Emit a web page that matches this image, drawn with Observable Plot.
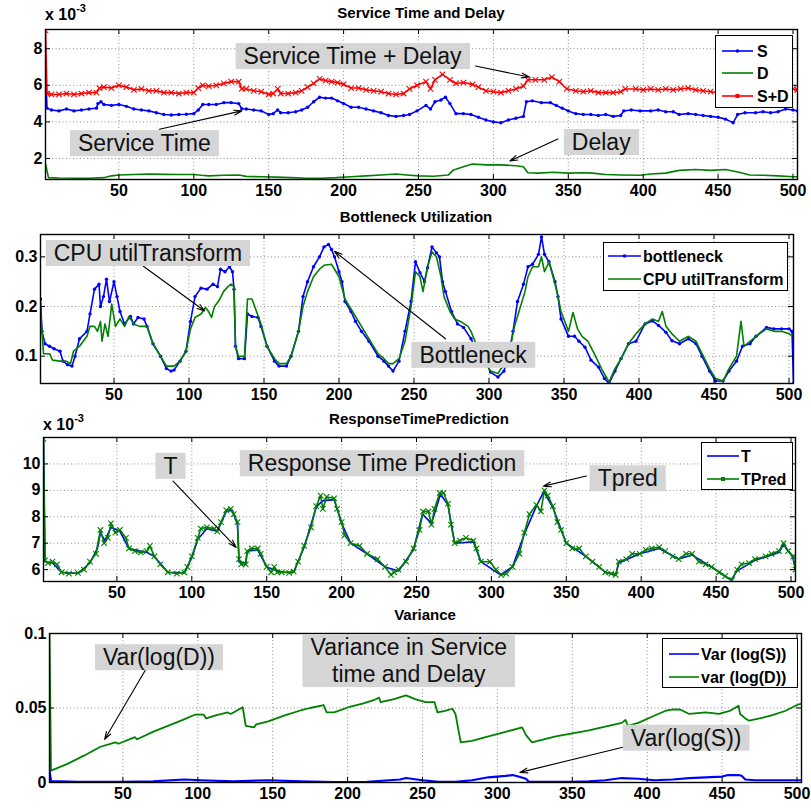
<!DOCTYPE html>
<html><head><meta charset="utf-8">
<script src="https://cdn.jsdelivr.net/npm/d3@7"></script>
<script src="https://cdn.jsdelivr.net/npm/@observablehq/plot@0.6"></script>
<style>
body{margin:0;background:#fff;}
#root{position:relative;width:811px;height:809px;overflow:hidden;font-family:"Liberation Sans",Arial,Helvetica,sans-serif;color:#000;}
.title{position:absolute;font-weight:bold;font-size:15px;transform:translate(-50%,-50%);white-space:nowrap;}
.expo{position:absolute;font-weight:bold;font-size:16px;white-space:nowrap;}
.expo sup{font-size:11px;position:relative;top:-2px;}
.legend{position:absolute;background:#fff;border:1.5px solid #000;box-sizing:border-box;}
.legend svg{position:absolute;left:0;top:0;overflow:visible;}
</style></head><body><div id="root"></div><script>
// ---------- shared ----------
const xDomain = [1, 503];
const xTicks = [50, 100, 150, 200, 250, 300, 350, 400, 450, 500];

// ---------- Panel 1: Service Time and Delay (values in units of 1e-3) ----------
const p1Ticks = [2, 4, 6, 8];
const serviceS = [[1,7.0],[2,4.75],[5,4.65],[10,4.6],[15,4.7],[20,4.6],[25,4.65],[30,4.7],[35,4.75],[36,5.0],[38,5.1],[40,4.95],[45,4.9],[50,4.95],[55,4.85],[60,4.7],[65,4.65],[70,4.6],[75,4.5],[80,4.4],[85,4.38],[90,4.4],[95,4.42],[100,4.45],[103,4.65],[106,4.95],[110,4.95],[115,4.95],[120,5.05],[125,5.05],[130,5.0],[132,4.72],[135,4.7],[140,4.65],[145,4.6],[150,4.4],[153,4.45],[156,4.65],[158,4.5],[163,4.5],[168,4.55],[172,4.65],[176,4.8],[180,5.1],[184,5.35],[188,5.3],[192,5.3],[196,5.15],[200,5.0],[205,4.8],[210,4.8],[215,4.7],[220,4.6],[225,4.5],[230,4.35],[235,4.3],[240,4.35],[244,4.4],[249,4.6],[255,4.9],[258,4.7],[261,5.1],[265,5.2],[268,5.35],[271,5.0],[275,4.45],[280,4.45],[285,4.4],[290,4.25],[295,4.1],[300,4.0],[305,3.95],[310,4.1],[315,4.2],[320,4.3],[322,5.1],[326,5.15],[332,5.05],[338,5.05],[342,4.9],[346,4.75],[350,4.6],[355,4.45],[360,4.4],[365,4.4],[370,4.35],[375,4.4],[380,4.3],[385,4.35],[387,4.6],[392,4.65],[398,4.6],[405,4.6],[410,4.65],[415,4.55],[420,4.55],[424,4.4],[430,4.45],[435,4.4],[440,4.35],[445,4.3],[450,4.25],[455,4.15],[460,3.95],[463,4.4],[468,4.5],[475,4.5],[480,4.55],[485,4.5],[490,4.55],[495,4.7],[500,4.65],[503,4.6]];
const delayD = [[1,1.7],[3,0.95],[10,0.93],[20,0.92],[30,0.92],[40,0.95],[45,1.05],[50,1.1],[60,1.12],[70,1.15],[80,1.13],[90,1.12],[100,1.12],[105,1.08],[110,1.05],[120,1.08],[130,1.1],[135,1.02],[145,1.0],[155,0.98],[165,0.95],[175,0.92],[185,0.92],[195,0.95],[205,1.0],[215,1.05],[225,1.1],[235,1.15],[242,1.1],[250,1.05],[260,1.03],[270,1.1],[273,1.35],[280,1.55],[286,1.7],[295,1.65],[305,1.65],[315,1.6],[320,1.55],[323,1.22],[330,1.2],[340,1.25],[350,1.2],[360,1.22],[366,1.2],[375,1.12],[385,1.1],[398,1.08],[405,1.15],[415,1.2],[424,1.35],[435,1.4],[445,1.35],[455,1.4],[464,1.25],[471,1.1],[480,1.08],[490,1.05],[500,1.0],[503,1.0]];
const serviceSD = [[1,9.0],[2,5.55],[5,5.5],[10,5.5],[15,5.55],[20,5.5],[25,5.55],[30,5.6],[35,5.6],[37,5.85],[40,5.9],[45,5.85],[50,6.0],[55,5.9],[60,5.75],[65,5.8],[70,5.7],[75,5.7],[80,5.6],[85,5.6],[90,5.55],[95,5.6],[100,5.6],[103,5.85],[106,6.0],[110,5.95],[115,6.0],[120,6.1],[125,6.2],[130,6.2],[132,5.8],[135,5.8],[140,5.7],[145,5.65],[150,5.5],[153,5.55],[156,5.8],[158,5.55],[163,5.55],[168,5.6],[172,5.7],[176,5.9],[180,6.1],[184,6.35],[188,6.25],[192,6.2],[196,6.15],[200,6.05],[205,5.85],[210,5.85],[215,5.75],[220,5.7],[225,5.65],[230,5.55],[235,5.5],[240,5.55],[244,5.8],[249,6.0],[255,6.2],[258,5.8],[261,6.3],[266,6.6],[271,6.3],[275,6.1],[280,6.15],[286,6.05],[290,5.9],[295,5.7],[300,5.65],[305,5.6],[310,5.7],[315,5.8],[320,5.95],[323,6.3],[328,6.3],[334,6.3],[339,6.45],[344,6.2],[349,5.8],[355,5.7],[360,5.65],[365,5.7],[370,5.6],[375,5.6],[380,5.6],[385,5.65],[388,5.8],[395,5.8],[400,5.75],[405,5.8],[410,5.75],[415,5.8],[420,5.75],[425,5.8],[430,5.85],[435,5.75],[440,5.7],[445,5.65],[450,5.6],[455,5.55],[460,5.5],[465,5.6],[470,5.65],[475,5.7],[480,5.7],[485,5.65],[490,5.7],[495,5.8],[500,5.8],[503,5.75]];
const p1Labels = [
  {label: "Service Time + Delay", x: 206, y: 7.63},
  {label: "Service Time", x: 67, y: 2.87},
  {label: "Delay", x: 372, y: 2.93}
];
const p1Arrows = [
  {x1: 288, y1: 7.05, x2: 324, y2: 6.45},
  {x1: 77, y1: 3.6, x2: 132, y2: 4.6},
  {x1: 343, y1: 3.07, x2: 311, y2: 1.86}
];

// ---------- Panel 2: Bottleneck Utilization ----------
const p2Ticks = [0.1, 0.2, 0.3];
const bottleneck = [[1,0.215],[2,0.15],[4,0.125],[7,0.12],[10,0.115],[14,0.11],[16,0.09],[19,0.083],[22,0.08],[24,0.1],[27,0.135],[32,0.15],[34,0.185],[37,0.235],[40,0.245],[41,0.2],[43,0.22],[45,0.255],[47,0.21],[50,0.25],[52,0.22],[54,0.19],[57,0.165],[61,0.18],[63,0.165],[66,0.178],[70,0.175],[72,0.16],[76,0.125],[81,0.1],[85,0.075],[88,0.07],[90,0.072],[94,0.09],[98,0.11],[101,0.17],[104,0.22],[108,0.237],[112,0.235],[116,0.245],[119,0.24],[121,0.275],[124,0.27],[127,0.28],[129,0.27],[130,0.235],[131,0.12],[133,0.095],[137,0.095],[139,0.185],[142,0.18],[146,0.178],[148,0.16],[152,0.12],[157,0.09],[160,0.08],[165,0.08],[168,0.1],[173,0.15],[176,0.22],[179,0.25],[183,0.28],[187,0.3],[190,0.32],[193,0.325],[195,0.315],[197,0.3],[200,0.27],[202,0.25],[204,0.21],[208,0.19],[211,0.17],[215,0.15],[220,0.13],[226,0.1],[230,0.09],[233,0.08],[236,0.07],[240,0.09],[244,0.15],[248,0.21],[251,0.29],[254,0.268],[257,0.25],[259,0.278],[262,0.32],[265,0.308],[267,0.3],[269,0.25],[271,0.23],[275,0.19],[279,0.165],[283,0.158],[288,0.135],[292,0.11],[297,0.095],[301,0.068],[306,0.058],[310,0.07],[313,0.1],[316,0.15],[319,0.21],[323,0.245],[326,0.28],[329,0.285],[333,0.305],[335,0.34],[337,0.305],[340,0.29],[344,0.25],[346,0.22],[348,0.175],[353,0.14],[357,0.14],[360,0.13],[364,0.118],[368,0.092],[373,0.078],[377,0.055],[380,0.045],[384,0.07],[388,0.095],[393,0.125],[398,0.13],[404,0.165],[409,0.171],[413,0.162],[418,0.148],[422,0.131],[427,0.125],[433,0.135],[438,0.125],[442,0.1],[447,0.07],[451,0.05],[456,0.05],[460,0.07],[465,0.09],[469,0.12],[474,0.125],[478,0.14],[485,0.158],[490,0.155],[495,0.155],[500,0.155],[502,0.15],[503,0.045]];
const cpuUtil = [[1,0.19],[2,0.15],[3,0.105],[7,0.105],[9,0.092],[14,0.09],[18,0.09],[21,0.085],[23,0.11],[27,0.12],[32,0.14],[34,0.16],[37,0.16],[39,0.15],[41,0.17],[42,0.13],[44,0.165],[46,0.14],[48.5,0.205],[51,0.16],[54,0.175],[57,0.16],[60,0.18],[63,0.165],[67,0.16],[72,0.16],[76,0.125],[81,0.1],[85,0.08],[90,0.08],[94,0.09],[98,0.11],[101,0.155],[104,0.178],[108,0.185],[111,0.198],[113,0.19],[115,0.178],[117,0.2],[120,0.212],[123,0.23],[126,0.24],[128,0.245],[130,0.24],[131,0.12],[133,0.1],[137,0.1],[139,0.215],[142,0.215],[145,0.19],[148,0.165],[152,0.12],[157,0.095],[160,0.085],[165,0.085],[168,0.1],[173,0.15],[176,0.2],[179,0.23],[183,0.26],[187,0.275],[190,0.283],[195,0.285],[197,0.275],[200,0.26],[204,0.215],[208,0.195],[211,0.18],[215,0.16],[220,0.135],[226,0.105],[230,0.095],[233,0.085],[236,0.085],[240,0.095],[244,0.13],[248,0.2],[251,0.27],[254,0.26],[256,0.23],[259,0.28],[262,0.31],[265,0.3],[268,0.26],[270,0.22],[274,0.19],[277,0.175],[281,0.17],[286,0.16],[288,0.15],[292,0.12],[297,0.09],[301,0.07],[306,0.065],[308,0.075],[310,0.08],[313,0.1],[317,0.16],[320,0.19],[324,0.23],[326,0.26],[329,0.28],[333,0.28],[335,0.3],[337,0.27],[340,0.29],[344,0.245],[346,0.22],[348,0.19],[353,0.15],[356,0.188],[359,0.155],[362,0.14],[366,0.13],[371,0.1],[375,0.075],[380,0.048],[384,0.075],[389,0.1],[393,0.125],[398,0.145],[404,0.165],[409,0.175],[413,0.17],[415.5,0.19],[418,0.16],[422,0.145],[427,0.13],[433,0.14],[438,0.13],[442,0.105],[447,0.075],[451,0.055],[456,0.05],[460,0.075],[465,0.1],[468,0.17],[470,0.12],[474,0.13],[478,0.14],[485,0.155],[490,0.15],[495,0.15],[500,0.145],[503,0.14]];
const p2Labels = [
  {label: "CPU utilTransform", x: 72.6, y: 0.309},
  {label: "Bottleneck", x: 289.4, y: 0.104}
];
const p2Arrows = [
  {x1: 69.6, y1: 0.281, x2: 110.5, y2: 0.191},
  {x1: 271, y1: 0.135, x2: 197, y2: 0.311}
];

// ---------- Panel 3: ResponseTimePrediction (values in units of 1e-3) ----------
const p3Ticks = [6, 7, 8, 9, 10];
const respT = [[1,10.9],[2,6.3],[7,6.25],[13,5.9],[24,5.85],[32,6.25],[37,6.8],[39,7.4],[42,7.1],[46,7.6],[52,7.45],[58,6.8],[70,6.65],[75,6.5],[84,5.9],[95,5.88],[100,6.45],[104,7.15],[110,7.55],[117,7.45],[123,8.2],[127,8.25],[130.5,7.7],[131.5,6.3],[136,6.25],[137,6.7],[144,6.75],[150,6.1],[160,5.9],[168,5.9],[175,6.85],[183,8.35],[187,8.6],[195,8.65],[200,7.75],[206,7.0],[217,6.6],[229,6.1],[238,5.95],[248,6.75],[254,8.1],[260,7.75],[266,8.85],[271,8.45],[275.5,7.0],[288,7.05],[293,6.3],[306,5.8],[314,6.1],[322,7.35],[330,8.4],[335,8.95],[341,8.35],[350,7.0],[363,6.5],[376,5.9],[383,5.8],[385,6.25],[399,6.6],[412,6.8],[425,6.4],[434,6.55],[447,6.1],[460,5.6],[464,5.95],[476,6.35],[492,6.65],[495,6.95],[501,6.5],[503,6.0]];
const respTPred = [[1,10.95],[2,6.35],[4,6.25],[7,6.3],[10,6.2],[13,5.9],[18,5.85],[24,5.88],[28,6.0],[32,6.3],[36,6.6],[39,7.5],[41.5,7.0],[44,7.2],[46,7.75],[49,7.4],[52,7.5],[56,7.2],[58,6.8],[62,6.7],[66,6.65],[70,6.7],[72,6.9],[75,6.5],[79,6.2],[84,5.9],[90,5.85],[95,5.9],[97,6.1],[100,6.5],[104,7.2],[106,7.55],[110,7.6],[115,7.55],[117,7.45],[119.5,7.8],[123,8.25],[126,8.3],[128,8.1],[130.5,7.8],[131.5,6.4],[133,6.2],[136,6.2],[137,6.7],[140,6.8],[144,6.8],[146,6.6],[150,6.1],[153,5.9],[155,6.1],[157,5.9],[160,5.9],[165,5.88],[168,5.92],[171,6.3],[175,6.9],[179.6,7.6],[183,8.4],[186,8.8],[187.5,8.3],[190,8.75],[195,8.7],[197,8.3],[200,7.8],[202,7.3],[206,7.0],[212,6.9],[217,6.6],[224,6.4],[229,6.1],[233,5.8],[235,5.9],[238,6.0],[243,6.3],[248,6.8],[252,7.5],[254.4,8.2],[258,8.2],[260,7.7],[262,8.3],[265.5,8.9],[268,8.9],[271,8.5],[273,7.7],[275.5,7.0],[279,7.1],[283,7.2],[288,7.1],[290,6.8],[293,6.3],[299,6.3],[303,6.0],[306.5,5.8],[310,5.85],[314,6.1],[318.7,6.6],[322,7.4],[325.4,8.1],[330,8.45],[333,8.2],[335.4,9.0],[337.6,8.8],[341,8.4],[344,7.8],[346.5,7.5],[350,7.0],[354,6.8],[358.6,6.8],[363,6.5],[367.5,6.3],[372,6.1],[376,5.9],[380,5.85],[383,5.8],[385,6.3],[390,6.4],[394,6.6],[399,6.6],[403,6.75],[407,6.8],[412,6.85],[416,6.7],[421,6.5],[425,6.4],[430,6.6],[434,6.6],[438.5,6.3],[443,6.2],[447,6.1],[452,5.9],[456,5.75],[460.6,5.6],[464,6.0],[467,6.2],[472,6.25],[476,6.4],[483,6.5],[487,6.6],[492,6.7],[495,7.0],[498,6.7],[501.5,6.5],[503,6.0]];
const p3Labels = [
  {label: "T", x: 85.8, y: 9.95},
  {label: "Response Time Prediction", x: 227, y: 10.05},
  {label: "Tpred", x: 391, y: 9.48}
];
const p3Arrows = [
  {x1: 87.5, y1: 9.35, x2: 129.6, y2: 6.84},
  {x1: 363.4, y1: 9.54, x2: 334.7, y2: 9.16}
];

// ---------- Panel 4: Variance ----------
const p4Ticks = [0, 0.05, 0.1];
const varLogS = [[1,0.008],[2,0.001],[20,0.0005],[50,0.0005],[70,0.0008],[91,0.002],[102,0.0015],[124,0.0008],[147,0.0015],[169,0.0008],[191,0.0003],[213,0.0005],[235,0.002],[239,0.003],[250,0.0015],[261,0.0005],[272,0.0005],[283,0.0015],[294,0.0035],[305.5,0.0045],[310,0.005],[314,0.004],[319,0.0025],[321,0.0005],[340,0.0005],[350,0.0005],[361,0.0008],[372,0.0015],[383,0.003],[394,0.0025],[405,0.0015],[417,0.002],[428,0.003],[439,0.0035],[450,0.004],[454,0.005],[461,0.005],[463,0.0045],[465.5,0.002],[472,0.0015],[490,0.0015],[503,0.0015]];
const varLogD = [[1,0.1],[2,0.008],[13,0.0125],[24,0.018],[35,0.024],[45,0.027],[47,0.026],[58,0.0305],[59.5,0.029],[70,0.034],[80,0.038],[90,0.042],[98,0.0455],[104,0.0455],[105.5,0.043],[112,0.045],[120,0.047],[122,0.046],[130,0.0505],[132,0.038],[137.5,0.037],[139,0.039],[147,0.041],[158,0.045],[169,0.0485],[175,0.05],[184,0.052],[186,0.047],[191,0.047],[202,0.051],[210,0.053],[218,0.0555],[221,0.057],[222,0.054],[231,0.056],[239,0.0585],[245,0.056],[252,0.054],[258,0.054],[260,0.047],[265,0.048],[270,0.0495],[272,0.046],[275.5,0.027],[283,0.028],[294,0.031],[305.5,0.034],[316.5,0.037],[319,0.032],[323,0.027],[339,0.031],[350,0.033],[361,0.035],[372,0.0375],[383,0.04],[385.5,0.042],[387,0.038],[394,0.04],[405,0.045],[412,0.048],[417,0.049],[422,0.049],[428,0.046],[439,0.047],[448,0.046],[455,0.048],[461,0.0515],[462,0.046],[465.5,0.043],[468,0.0415],[475,0.043],[483,0.045],[492,0.048],[500,0.052],[503,0.053]];
const p4Labels = [
  {label: "Var(log(D))", x: 74.1, y: 0.0845},
  {label: "Variance in Service\ntime and Delay", x: 240.8, y: 0.0822},
  {label: "Var(log(S))", x: 426, y: 0.0305}
];
const p4Arrows = [
  {x1: 67, y1: 0.0789, x2: 37.8, y2: 0.0289},
  {x1: 386.5, y1: 0.0243, x2: 315, y2: 0.0068}
];

// ---------- colours ----------
const BLUE = "#0000ff", GREEN = "#008000", RED = "#ff0000";

const root = document.getElementById("root");

function seriesMarks(s) {
  const m = [Plot.line(s.data, {x: d => d[0], y: d => d[1], stroke: s.color, strokeWidth: s.width || 1.6, clip: true})];
  if (s.marker === "dot") m.push(Plot.dot(s.data, {x: d => d[0], y: d => d[1], r: 1.7, fill: s.color, stroke: null, clip: true}));
  if (s.marker === "times") m.push(Plot.dot(s.data, {x: d => d[0], y: d => d[1], symbol: "times", r: 2.6, stroke: s.color, strokeWidth: 1.1, clip: true}));
  return m;
}

function panel(cfg) {
  const {top, height, mt, mb, ml, mr, yDomain, yTicks, series, labels, arrows} = cfg;
  const plotW = 811 - ml - mr, plotH = height - mt - mb;
  const gridStyle = {stroke: "#444", strokeOpacity: 0.75, strokeWidth: 0.8, strokeDasharray: "1,2.5"};
  const svg = Plot.plot({
    width: 811, height,
    marginTop: mt, marginBottom: mb, marginLeft: ml, marginRight: mr,
    style: {fontFamily: '"Liberation Sans", Arial, Helvetica, sans-serif', overflow: "visible", background: "transparent"},
    x: {domain: xDomain, label: null},
    y: {domain: yDomain, label: null},
    marks: [
      Plot.gridX(xTicks, gridStyle),
      Plot.gridY(yTicks, gridStyle),
      ...series.flatMap(seriesMarks),
      Plot.tickX(xTicks, {x: d => d, insetBottom: plotH - 5, stroke: "#000"}),
      Plot.tickX(xTicks, {x: d => d, insetTop: plotH - 5, stroke: "#000"}),
      Plot.tickY(yTicks, {y: d => d, insetRight: plotW - 5, stroke: "#000"}),
      Plot.tickY(yTicks, {y: d => d, insetLeft: plotW - 5, stroke: "#000"}),
      Plot.frame({stroke: "#000", strokeWidth: 1.4}),
      Plot.axisX(xTicks, {tickSize: 0, tickPadding: 5, fontSize: 16, fontWeight: "bold", fill: "#000", tickFormat: d => String(d)}),
      Plot.axisY(yTicks, {tickSize: 0, tickPadding: 3, fontSize: 16, fontWeight: "bold", fill: "#000", tickFormat: d => String(d)}),
      Plot.arrow(arrows, {x1: "x1", y1: "y1", x2: "x2", y2: "y2", stroke: "#000", strokeWidth: 1.1, headLength: 11, headAngle: 35}),
      Plot.text(labels, {x: "x", y: "y", text: "label", fontSize: 23, lineHeight: 1.17, fill: "#111"})
    ]
  });
  svg.style.position = "absolute";
  svg.style.left = "0px";
  svg.style.top = top + "px";
  root.appendChild(svg);
  // grey label boxes behind the annotation texts
  svg.querySelectorAll('g[aria-label="text"] > text').forEach(t => {
    const b = t.getBBox();
    const padX = 8;
    const r = document.createElementNS("http://www.w3.org/2000/svg", "rect");
    r.setAttribute("x", b.x - padX);
    r.setAttribute("y", b.y);
    r.setAttribute("width", b.width + 2 * padX);
    r.setAttribute("height", b.height);
    const tr = t.getAttribute("transform");
    if (tr) r.setAttribute("transform", tr);
    r.setAttribute("fill", "#d5d5d5");
    t.parentNode.insertBefore(r, t);
  });
}

panel({top: 0, height: 210, mt: 29, mb: 31, ml: 45, mr: 14, yDomain: [0.85, 9.05], yTicks: p1Ticks,
  series: [
    {data: delayD, color: GREEN},
    {data: serviceS, color: BLUE, marker: "dot"},
    {data: serviceSD, color: RED, marker: "times"}
  ], labels: p1Labels, arrows: p1Arrows});

panel({top: 200, height: 210, mt: 34, mb: 27, ml: 40, mr: 18, yDomain: [0.045, 0.345], yTicks: p2Ticks,
  series: [
    {data: bottleneck, color: BLUE, marker: "dot"},
    {data: cpuUtil, color: GREEN}
  ], labels: p2Labels, arrows: p2Arrows});

panel({top: 400, height: 205, mt: 37, mb: 24, ml: 43, mr: 16, yDomain: [5.55, 11.0], yTicks: p3Ticks,
  series: [
    {data: respT, color: BLUE},
    {data: respTPred, color: GREEN, marker: "times"}
  ], labels: p3Labels, arrows: p3Arrows});

panel({top: 600, height: 209, mt: 33, mb: 27, ml: 49, mr: 10, yDomain: [0, 0.1], yTicks: p4Ticks,
  series: [
    {data: varLogD, color: GREEN, width: 1.8},
    {data: varLogS, color: BLUE, width: 2.2}
  ], labels: p4Labels, arrows: p4Arrows});

// ---------- titles & exponent labels ----------
const titles = [
  {text: "Service Time and Delay", x: 421, y: 12},
  {text: "Bottleneck Utilization", x: 416, y: 216},
  {text: "ResponseTimePrediction", x: 419, y: 418},
  {text: "Variance", x: 425, y: 614}
];
titles.forEach(t => {
  const d = document.createElement("div");
  d.className = "title"; d.textContent = t.text;
  d.style.left = t.x + "px"; d.style.top = t.y + "px";
  root.appendChild(d);
});
[{x: 45, y: 4}, {x: 43, y: 414}].forEach(p => {
  const d = document.createElement("div");
  d.className = "expo"; d.innerHTML = "x 10<sup>-3</sup>";
  d.style.left = p.x + "px"; d.style.top = p.y + "px";
  root.appendChild(d);
});

// ---------- legends ----------
function legend(box, items) {
  const div = document.createElement("div");
  div.className = "legend";
  Object.assign(div.style, {left: box.x + "px", top: box.y + "px", width: box.w + "px", height: box.h + "px"});
  root.appendChild(div);
  const s = d3.select(div).append("svg").attr("width", box.w).attr("height", box.h);
  items.forEach(it => {
    s.append("line").attr("x1", it.l1).attr("x2", it.l2).attr("y1", it.y).attr("y2", it.y)
      .attr("stroke", it.color).attr("stroke-width", 1.6);
    const cx = (it.l1 + it.l2) / 2;
    if (it.marker === "dot") s.append("circle").attr("cx", cx).attr("cy", it.y).attr("r", 1.8).attr("fill", it.color);
    if (it.marker === "times") s.append("rect").attr("x", cx - 2).attr("y", it.y - 2).attr("width", 4).attr("height", 4).attr("fill", it.color);
    s.append("text").attr("x", it.tx).attr("y", it.y).attr("dy", "0.36em")
      .attr("font-size", 16).attr("font-weight", "bold")
      .attr("font-family", '"Liberation Sans", Arial, sans-serif').text(it.label);
  });
}
legend({x: 715, y: 35, w: 78, h: 73}, [
  {label: "S", color: BLUE, marker: "dot", y: 15, l1: 6, l2: 37, tx: 41},
  {label: "D", color: GREEN, y: 37, l1: 6, l2: 37, tx: 41},
  {label: "S+D", color: RED, marker: "times", y: 60, l1: 6, l2: 37, tx: 41}
]);
legend({x: 603, y: 242, w: 185, h: 49}, [
  {label: "bottleneck", color: BLUE, marker: "dot", y: 13, l1: 4, l2: 37, tx: 39},
  {label: "CPU utilTransform", color: GREEN, y: 36, l1: 4, l2: 37, tx: 39}
]);
legend({x: 701, y: 442, w: 92, h: 48}, [
  {label: "T", color: BLUE, y: 13, l1: 5, l2: 37, tx: 39},
  {label: "TPred", color: GREEN, marker: "times", y: 36, l1: 5, l2: 37, tx: 39}
]);
legend({x: 662, y: 638, w: 136, h: 50}, [
  {label: "Var (log(S))", color: BLUE, y: 15, l1: 6, l2: 36, tx: 38},
  {label: "var (log(D))", color: GREEN, y: 38, l1: 6, l2: 36, tx: 38}
]);
</script></body></html>
